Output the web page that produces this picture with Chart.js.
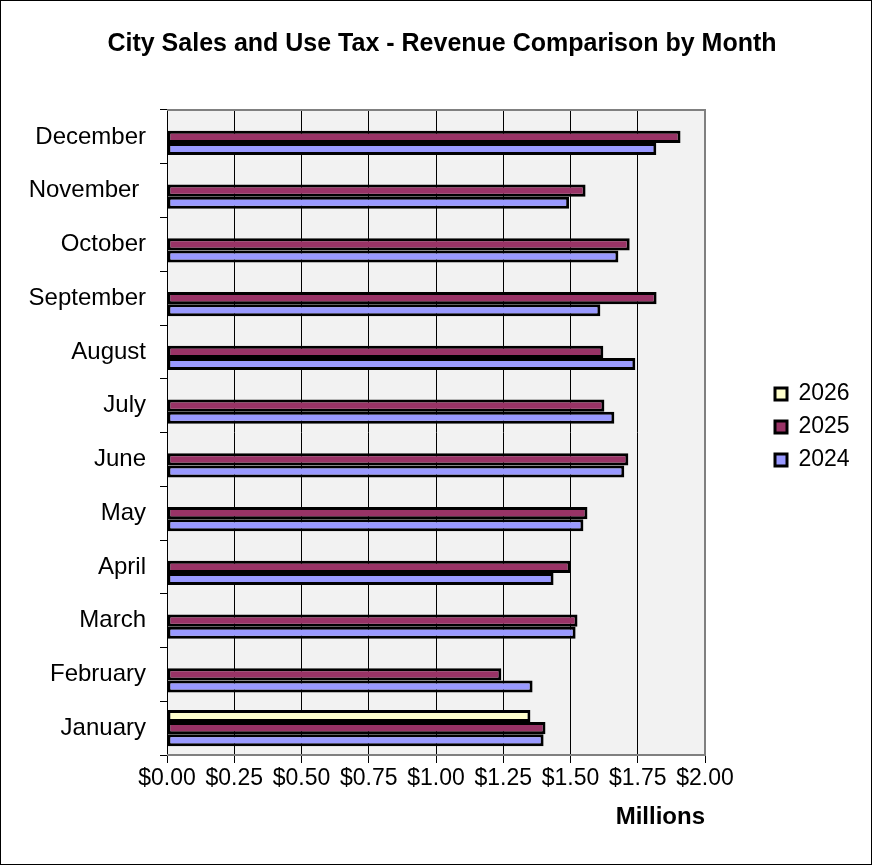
<!DOCTYPE html>
<html><head><meta charset="utf-8">
<script src="https://cdn.jsdelivr.net/npm/chart.js@4/dist/chart.umd.min.js"></script>
<style>
html,body{margin:0;padding:0;background:#fff;}
#frame{width:872px;height:865px;box-sizing:border-box;border:1px solid #000;position:relative;background:#fff;}
#wrap{position:absolute;left:0;top:0;width:870px;height:863px;}
</style></head><body>
<div id="frame"><div id="wrap"><canvas id="c"></canvas></div></div>
<script>
const chartTitle = 'City Sales and Use Tax - Revenue Comparison by Month';
const axisTitle = 'Millions';
const months = ['January','February','March','April','May','June','July','August','September','October','November ','December'];
const seriesNames = ['2026','2025','2024'];
const sales2026 = [1.351, null, null, null, null, null, null, null, null, null, null, null];
const sales2025 = [1.407, 1.243, 1.526, 1.500, 1.563, 1.715, 1.626, 1.622, 1.820, 1.720, 1.556, 1.909];
const sales2024 = [1.400, 1.359, 1.519, 1.437, 1.548, 1.700, 1.663, 1.741, 1.611, 1.678, 1.495, 1.819];
const xTickValues = [0, 0.25, 0.5, 0.75, 1.0, 1.25, 1.5, 1.75, 2.0];
const seriesColors = ['#FFFFCC', '#993366', '#9999FF'];

const FONT = '"Liberation Sans", Arial, Helvetica, sans-serif';

const plotFrame = {
  id: 'plotFrame',
  beforeDraw(chart) {
    const {ctx, chartArea: a} = chart;
    ctx.save();
    ctx.fillStyle = '#F2F2F2';
    ctx.fillRect(a.left, a.top, a.right - a.left, a.bottom - a.top);
    ctx.restore();
  },
  beforeDatasetsDraw(chart) {
    const {ctx, chartArea: a} = chart;
    ctx.save();
    ctx.strokeStyle = '#808080';
    ctx.lineWidth = 2;
    ctx.beginPath();
    ctx.moveTo(a.left, a.top);
    ctx.lineTo(a.right, a.top);
    ctx.lineTo(a.right, a.bottom);
    ctx.lineTo(a.left, a.bottom);
    ctx.stroke();
    ctx.restore();
  }
};

const placeBoxes = {
  id: 'placeBoxes',
  afterInit(chart) {
    const lg = chart.legend;
    const origFit = lg.fit;
    lg.fit = function () { origFit.call(this); this.width = 166; };
  },
  afterLayout(chart) {
    const a = chart.chartArea;
    const lg = chart.legend;
    const dx = (a.right + 70) - (lg.left + 10);
    lg.left += dx; lg.right += dx;
    const mid = (a.top + a.bottom) / 2;
    const wantCursorY = mid - 50;
    const colH = lg.columnSizes && lg.columnSizes[0] ? lg.columnSizes[0].height : 99;
    const cur = (lg.top + 10 + lg.bottom - colH) / 2;
    const dy = wantCursorY - cur;
    lg.top += dy; lg.bottom += dy;
    const t = chart.titleBlock;
    if (t) { t.left += 6; t.right += 6; }
  }
};

new Chart(document.getElementById('c'), {
  type: 'bar',
  data: {
    labels: months,
    datasets: [
      {label: seriesNames[0], data: sales2026, backgroundColor: seriesColors[0]},
      {label: seriesNames[1], data: sales2025, backgroundColor: seriesColors[1]},
      {label: seriesNames[2], data: sales2024, backgroundColor: seriesColors[2]}
    ].map(d => Object.assign(d, {borderColor: '#000', borderWidth: 3, borderSkipped: false, barPercentage: 1, categoryPercentage: 0.675}))
  },
  options: {
    indexAxis: 'y',
    responsive: true,
    maintainAspectRatio: false,
    animation: false,
    devicePixelRatio: 1,
    layout: {padding: {left: 0, right: 0, top: 0, bottom: 28}},
    font: {family: FONT},
    plugins: {
      title: {
        display: true, text: chartTitle, color: '#000',
        font: {family: FONT, size: 25, weight: 'bold'},
        padding: {top: 28, bottom: 51}
      },
      legend: {
        position: 'right',
        labels: {boxWidth: 12, boxHeight: 12, padding: 10, color: '#000', font: {family: FONT, size: 23}}
      },
      tooltip: {enabled: false}
    },
    scales: {
      x: {
        min: 0, max: 2,
        afterBuildTicks(scale) { scale.ticks = xTickValues.map(v => ({value: v})); },
        afterFit(scale) { scale.height = 81; },
        ticks: {
          color: '#000', font: {family: FONT, size: 23}, padding: 2, maxRotation: 0, autoSkip: false,
          callback: v => '$' + Number(v).toFixed(2)
        },
        grid: {color: '#000', tickColor: '#000', lineWidth: 1, tickLength: 8},
        border: {display: false},
        title: {display: true, text: axisTitle, align: 'end', color: '#000', font: {family: FONT, size: 24, weight: 'bold'}, padding: {top: 4, bottom: 4}}
      },
      y: {
        reverse: true,
        afterFit(scale) { scale.width = 166; },
        ticks: {color: '#000', font: {family: FONT, size: 24}, padding: 14, autoSkip: false},
        grid: {offset: true, drawOnChartArea: false, drawTicks: true, tickLength: 7, color: '#000', tickColor: '#000'},
        border: {display: true, color: '#000', width: 1}
      }
    }
  },
  plugins: [plotFrame, placeBoxes]
});
</script>
</body></html>
